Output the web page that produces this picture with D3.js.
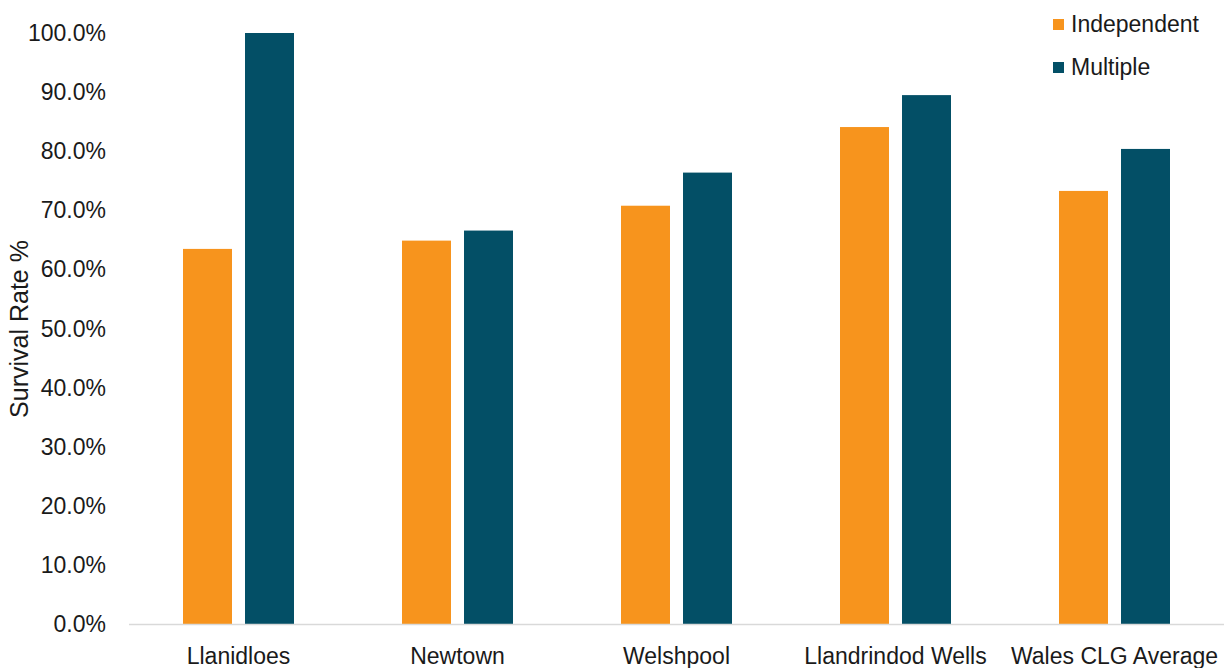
<!DOCTYPE html>
<html>
<head>
<meta charset="utf-8">
<script src="https://cdn.jsdelivr.net/npm/d3@7"></script>
<style>
  html, body { margin: 0; padding: 0; background: #ffffff; }
  svg text { font-family: "Liberation Sans", Arial, Helvetica, sans-serif; fill: #1a1a1a; }
</style>
</head>
<body>
<svg id="chart" width="1229" height="668"></svg>
<script>
// Survival rates by town, independent vs multiple businesses
const categories = ["Llanidloes", "Newtown", "Welshpool", "Llandrindod Wells", "Wales CLG Average"];
const seriesNames = ["Independent", "Multiple"];
const independent = [63.5, 64.9, 70.8, 84.1, 73.3];
const multiple = [100.0, 66.6, 76.4, 89.5, 80.4];
const yTicks = [0, 10, 20, 30, 40, 50, 60, 70, 80, 90, 100];
const colors = ["#F7941D", "#034F66"];

const svg = d3.select("#chart");
const margin = { left: 129, right: 5, top: 33 };
const width = 1229;
const plotBottom = 624.5;

const x = d3.scaleBand()
  .domain(categories)
  .range([margin.left, width - margin.right])
  .paddingInner(0)
  .paddingOuter(0);

// Two bars per category, grouped around the band centre
const bw = x.bandwidth();
const inner = d3.scaleBand()
  .domain(seriesNames)
  .range([bw * 0.2466, bw * 0.7534])
  .paddingInner(0.21)
  .paddingOuter(0);

const y = d3.scaleLinear()
  .domain([0, 100])
  .range([plotBottom, margin.top]);

const rows = categories.map((c, i) => ({ cat: c, values: [independent[i], multiple[i]] }));

// Bars
const groups = svg.append("g").selectAll("g")
  .data(rows)
  .join("g")
  .attr("transform", d => `translate(${x(d.cat)},0)`);

groups.selectAll("rect")
  .data(d => d.values.map((v, j) => ({ name: seriesNames[j], value: v, j })))
  .join("rect")
  .attr("x", d => inner(d.name))
  .attr("width", inner.bandwidth())
  .attr("y", d => y(d.value))
  .attr("height", d => y(0) - y(d.value))
  .attr("fill", d => colors[d.j]);

// Baseline
svg.append("line")
  .attr("x1", margin.left).attr("x2", width - margin.right)
  .attr("y1", y(0)).attr("y2", y(0))
  .attr("stroke", "#d9d9d9").attr("stroke-width", 1.5);

// Y axis
const yAxis = d3.axisLeft(y)
  .tickValues(yTicks)
  .tickFormat(d => d.toFixed(1) + "%")
  .tickSize(0)
  .tickPadding(0);

const yg = svg.append("g")
  .attr("transform", "translate(106,0)")
  .call(yAxis);
yg.select(".domain").remove();
yg.selectAll("text")
  .style("font-size", "23px")
  .attr("fill", "#1a1a1a");

// X axis labels
const xAxis = d3.axisBottom(x).tickSize(0).tickPadding(0);
const xg = svg.append("g")
  .attr("transform", `translate(0,${plotBottom + 22})`)
  .call(xAxis);
xg.select(".domain").remove();
xg.selectAll("text")
  .attr("dy", "0.74em")
  .style("font-size", "23px")
  .attr("fill", "#1a1a1a");

// Y axis title
svg.append("text")
  .attr("transform", "translate(28,329) rotate(-90)")
  .attr("text-anchor", "middle")
  .style("font-size", "25px")
  .text("Survival Rate %");

// Legend
const legend = svg.append("g").selectAll("g")
  .data(seriesNames)
  .join("g")
  .attr("transform", (d, i) => `translate(1053,${19 + i * 43})`);
legend.append("rect")
  .attr("width", 11).attr("height", 11)
  .attr("fill", (d, i) => colors[i]);
legend.append("text")
  .attr("x", 18).attr("y", 13)
  .style("font-size", "23px")
  .text(d => d);
</script>
</body>
</html>
